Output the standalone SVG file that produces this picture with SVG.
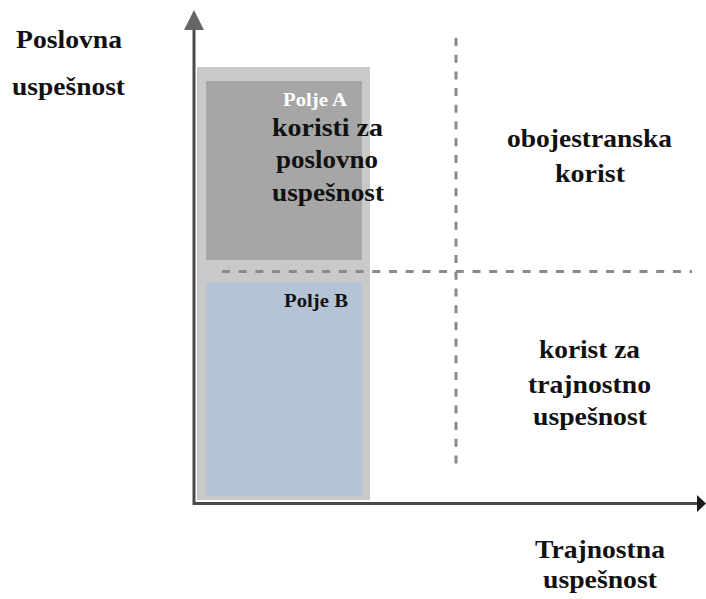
<svg xmlns="http://www.w3.org/2000/svg" width="706" height="599" viewBox="0 0 706 599">
  <defs>
    <style>
      .lbl { font-family: "Liberation Serif", "Times New Roman", serif; font-weight: bold; font-size: 24.5px; fill: #111; }
      .tag { font-family: "Liberation Serif", "Times New Roman", serif; font-weight: bold; font-size: 19px; }
      .guide { stroke: #8a8a8a; stroke-width: 3; stroke-dasharray: 8 8.7; fill: none; }
      .axis { stroke: #4a4a4a; stroke-width: 3; fill: none; }
    </style>
  </defs>
  <rect width="706" height="599" fill="#ffffff"/>

  <!-- field background -->
  <g id="field">
    <rect x="197" y="67" width="173" height="433" fill="#c9c9c9"/>
  </g>

  <!-- Polje A -->
  <g id="polje-a">
    <rect x="206" y="81" width="156" height="179" fill="#a6a6a6"/>
    <text class="tag" x="283" y="106" textLength="64" lengthAdjust="spacingAndGlyphs" fill="#ffffff">Polje A</text>
    <text class="lbl" x="272" y="136" textLength="111" lengthAdjust="spacingAndGlyphs">koristi za</text>
    <text class="lbl" x="276" y="168" textLength="102" lengthAdjust="spacingAndGlyphs">poslovno</text>
    <text class="lbl" x="272" y="201" textLength="112" lengthAdjust="spacingAndGlyphs">uspešnost</text>
  </g>

  <!-- Polje B -->
  <g id="polje-b">
    <rect x="206" y="282" width="156" height="214" fill="#b4c4d6"/>
    <text class="tag" x="284" y="307" textLength="64" lengthAdjust="spacingAndGlyphs" fill="#111">Polje B</text>
  </g>

  <!-- upper right quadrant -->
  <g id="obojestranska">
    <text class="lbl" x="507" y="147" textLength="165" lengthAdjust="spacingAndGlyphs">obojestranska</text>
    <text class="lbl" x="555" y="182" textLength="70" lengthAdjust="spacingAndGlyphs">korist</text>
  </g>

  <!-- lower right quadrant -->
  <g id="trajnostna-korist">
    <text class="lbl" x="539" y="358" textLength="101" lengthAdjust="spacingAndGlyphs">korist za</text>
    <text class="lbl" x="528" y="393" textLength="123" lengthAdjust="spacingAndGlyphs">trajnostno</text>
    <text class="lbl" x="533" y="425" textLength="114" lengthAdjust="spacingAndGlyphs">uspešnost</text>
  </g>

  <!-- axis titles -->
  <g id="y-title">
    <text class="lbl" x="16" y="48" textLength="106" lengthAdjust="spacingAndGlyphs">Poslovna</text>
    <text class="lbl" x="12" y="95" textLength="113" lengthAdjust="spacingAndGlyphs">uspešnost</text>
  </g>
  <g id="x-title">
    <text class="lbl" x="535" y="558" textLength="130" lengthAdjust="spacingAndGlyphs">Trajnostna</text>
    <text class="lbl" x="543" y="588" textLength="114" lengthAdjust="spacingAndGlyphs">uspešnost</text>
  </g>

  <!-- connectors: axes and quadrant guides -->
  <g id="connectors">
    <line class="guide" x1="222" y1="271.5" x2="692" y2="271.5"/>
    <line class="guide" x1="456" y1="38" x2="456" y2="472"/>
    <path class="axis" d="M194 28 V503.5 H700"/>
    <polygon points="194,10 184,30 204,30" fill="#666666"/>
    <polygon points="706,503.5 697,495 697,512" fill="#1a1a1a"/>
  </g>
</svg>
